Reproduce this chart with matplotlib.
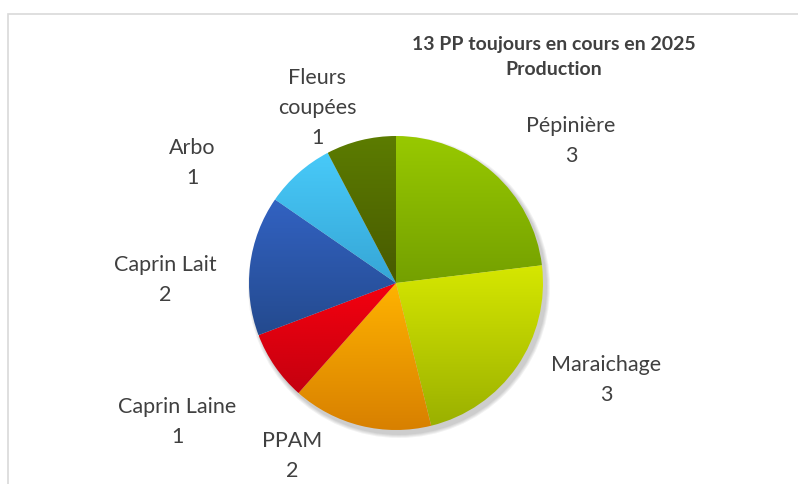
import matplotlib
matplotlib.use("Agg")
import matplotlib.pyplot as plt
import numpy as np
from matplotlib.colors import LinearSegmentedColormap
from matplotlib.patches import Rectangle, Circle

# Données
categories = ["Pépinière", "Maraichage", "PPAM", "Caprin Laine",
              "Caprin Lait", "Arbo", "Fleurs coupées"]
valeurs = [3, 3, 2, 1, 2, 1, 1]
titre = "13 PP toujours en cours en 2025\nProduction"

# couleurs (haut, bas) du dégradé de chaque part
couleurs_haut = ["#98C900", "#D6E700", "#FFB300", "#F5000F", "#3262C2", "#48CAF9", "#5C7C00"]
couleurs_bas = ["#74A000", "#9AB000", "#D88000", "#C4000F", "#244A8E", "#36A6D6", "#485A00"]

# position des étiquettes (pixels, origine en haut à gauche)
pos_etiquettes = [(571, 141), (606, 380), (292, 456), (177, 422),
                  (165, 280), (192, 163), (317, 108)]
etiquettes = ["Pépinière", "Maraichage", "PPAM", "Caprin Laine",
              "Caprin Lait", "Arbo", "Fleurs\ncoupées"]

W, H = 798, 484
fig = plt.figure(figsize=(W / 100, H / 100), dpi=100)
ax = fig.add_axes([0, 0, 1, 1])
ax.set_axis_off()

# cadre du graphique
ax.add_patch(Rectangle((7.5, -20), W + 20, H - 13.5 + 20, fill=False,
                       edgecolor="#D9D9D9", linewidth=1.2, zorder=0))

centre = (396, H - 283)
rayon = 147

# ombre légère
for i in range(4):
    ax.add_patch(Circle((centre[0] + 3, centre[1] - 4), rayon + 1 + i,
                        color="#000000", alpha=0.05, linewidth=0, zorder=1))

parts, _ = ax.pie(valeurs, center=centre, radius=rayon, startangle=90,
                  counterclock=False, wedgeprops=dict(linewidth=0))
gradient = np.linspace(0, 1, 256).reshape(-1, 1)
for part, c_haut, c_bas in zip(parts, couleurs_haut, couleurs_bas):
    part.set_facecolor("none")
    part.set_zorder(2)
    bb = part.get_path().get_extents()
    cmap = LinearSegmentedColormap.from_list("g", [c_haut, c_bas])
    im = ax.imshow(gradient, cmap=cmap, aspect="auto", origin="upper",
                   extent=[bb.x0, bb.x1, bb.y0, bb.y1], zorder=2,
                   interpolation="bilinear")
    im.set_clip_path(part)

police = "Lato"
for (x, y), nom, v in zip(pos_etiquettes, etiquettes, valeurs):
    ax.text(x, H - y, f"{nom}\n{v}", ha="center", va="center",
            fontsize=15.5, color="#404040", family=police, linespacing=1.6)

ax.text(554, H - 57, titre, ha="center", va="center", fontsize=14,
        fontweight="bold", color="#404040", family=police, linespacing=1.6)

ax.set_xlim(0, W)
ax.set_ylim(0, H)
fig.savefig("out.png", dpi=100)
